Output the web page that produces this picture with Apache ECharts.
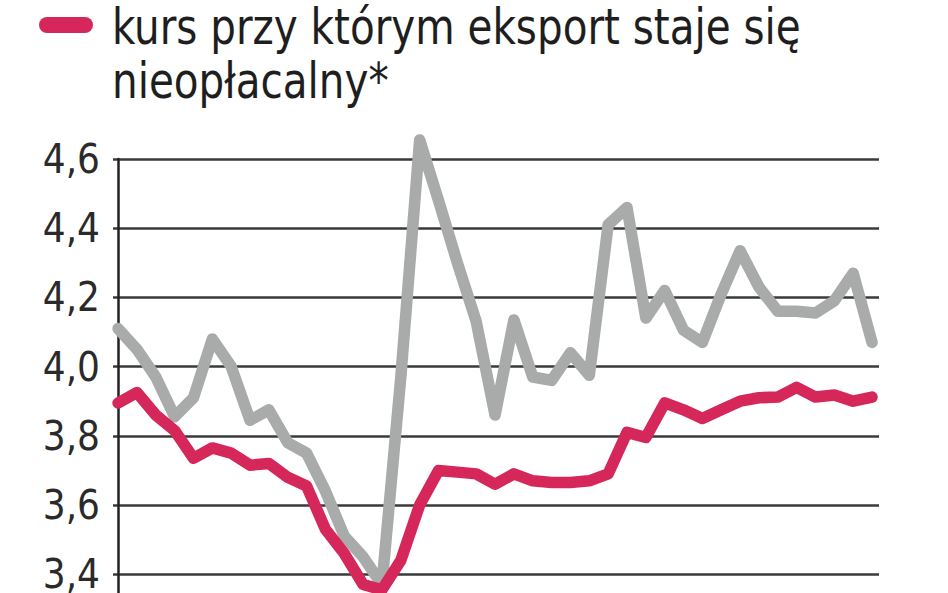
<!DOCTYPE html>
<html>
<head>
<meta charset="utf-8">
<script src="https://cdn.jsdelivr.net/npm/echarts@6/dist/echarts.min.js"></script>
<style>
html,body{margin:0;padding:0;background:#fff;}
#c{width:948px;height:593px;}
</style>
</head>
<body>
<div id="c"></div>
<script>
// y-axis tick labels (as printed)
const yTicks = ['3,4','3,6','3,8','4,0','4,2','4,4','4,6'];
// legend text
const legendLine1 = 'kurs przy którym eksport staje się';
const legendLine2 = 'nieopłacalny*';
// monthly observations (index along the time axis)
const greySeries = [4.11,4.05,3.97,3.855,3.91,4.08,4.0,3.845,3.875,3.78,
  3.75,3.64,3.51,3.45,3.37,3.97,4.655,4.48,4.3,4.13,
  3.86,4.135,3.97,3.96,4.04,3.975,4.41,4.46,4.14,4.22,
  4.105,4.07,4.21,4.335,4.23,4.16,4.16,4.155,4.19,4.27,4.07];
const pinkSeries = [3.895,3.925,3.86,3.815,3.735,3.765,3.75,3.715,3.72,3.68,
  3.655,3.53,3.46,3.37,3.355,3.44,3.6,3.70,3.695,3.69,
  3.66,3.69,3.67,3.665,3.665,3.67,3.69,3.81,3.795,3.895,
  3.875,3.85,3.875,3.9,3.91,3.912,3.94,3.912,3.918,3.9,3.912];

const chart = echarts.init(document.getElementById('c'), null, {renderer:'svg'});
const toPts = arr => arr.map((v,i)=>[i,v]);
const FONT = '"DejaVu Sans Condensed","DejaVu Sans",sans-serif';

chart.setOption({
  animation:false,
  backgroundColor:'#fff',
  grid:{left:113, top:159, width:766, height:484.4, containLabel:false, outerBoundsMode:'none'},
  xAxis:{type:'value', min:-0.27, max:40.37, show:true,
    axisLine:{show:false}, axisTick:{show:false}, axisLabel:{show:false}, splitLine:{show:false}},
  yAxis:{type:'value', min:3.2, max:4.6, interval:0.2,
    axisLine:{show:true, lineStyle:{color:'#222', width:2.5}},
    axisTick:{show:false},
    axisLabel:{show:true, margin:13, color:'#2a2a2a', fontFamily:FONT, fontSize:40,
      formatter:v=>{const s=v.toFixed(1).replace('.',','); return yTicks.indexOf(s)>=0?s:'';}},
    splitLine:{show:true, lineStyle:{color:'#3a3a3a', width:2.5}}},
  graphic:[
    {type:'rect', left:39, top:17, shape:{width:54, height:16, r:8}, style:{fill:'#d5275a'}},
    {type:'text', x:112, y:0, scaleX:0.9, style:{text:legendLine1+'\n'+legendLine2, fill:'#1e1e1e',
      font:'50px '+FONT, lineHeight:54}}
  ],
  series:[
    {type:'line', data:toPts(greySeries), symbol:'none', z:2, clip:false,
      lineStyle:{color:'#a9abab', width:11.5, join:'round', cap:'round'}},
    {type:'line', data:toPts(pinkSeries), symbol:'none', z:3, clip:false,
      lineStyle:{color:'#d5275a', width:11.5, join:'round', cap:'round'}}
  ]
});
</script>
</body>
</html>
